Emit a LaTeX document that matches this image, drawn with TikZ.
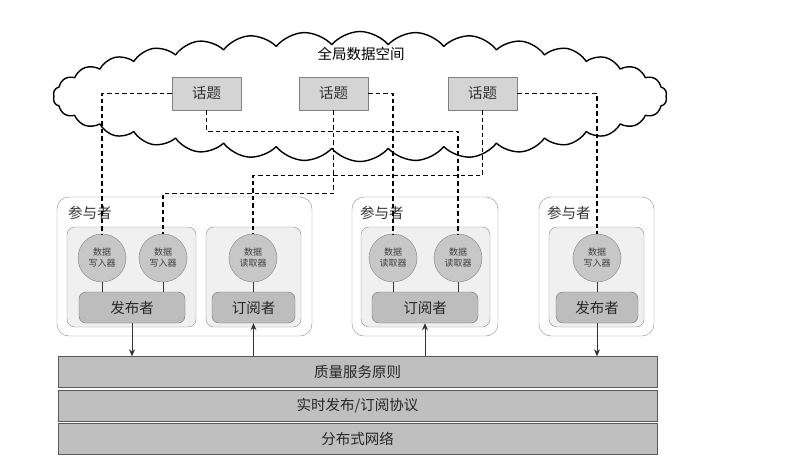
\documentclass[tikz,border=0pt]{standalone}
\usepackage{fontspec}
\setmainfont{Noto Sans CJK SC}
\usetikzlibrary{shapes.symbols,arrows.meta}

\begin{document}
\begin{tikzpicture}[x=1pt, y=-1pt, font=\fontsize{14.5}{16}\selectfont,
	line join=round, >={Stealth[length=7pt,width=6pt]},
	cloudbox/.style={cloud, cloud puffs=34, cloud puff arc=100, cloud ignores aspect,
		draw=black, line width=1.4pt, minimum width=614pt, minimum height=130pt},
	topic/.style={draw=black!50, fill=black!17, minimum width=69pt, minimum height=33pt,
		inner sep=0pt, text=black!80},
	part/.style={draw=black!45, fill=white, rounded corners=12pt, minimum height=139pt},
	group/.style={draw=black!45, fill=black!6, rounded corners=8pt, minimum height=100pt},
	dnode/.style={circle, draw=black!50, fill=black!22, minimum size=48pt, inner sep=0pt,
		align=center, font=\fontsize{9}{11}\selectfont, text=black!75},
	ps/.style={draw=black!55, fill=black!26, rounded corners=7pt, minimum height=31pt,
		text=black!85},
	bar/.style={draw=black!65, fill=black!25, minimum width=599pt, minimum height=31pt,
		text=black!85},
	plabel/.style={anchor=west, inner sep=0pt, text=black!80},
	dashline/.style={dashed, dash pattern=on 4.5pt off 3pt, line width=1.1pt},
	link/.style={line width=1pt, black!80}
	]
	%	\draw[gray!10] (0,0) grid[step=20pt] (796,472);
	\useasboundingbox[fill=white] (0,0) rectangle (796,472);
	% global data space
	\node[cloudbox] (space) at (360,96.5) {};
	\node (title) at (361,54) {全局数据空间};
	\node[topic] (t1) at (206.5,93.5) {话题};
	\node[topic] (t2) at (333.5,93.5) {话题};
	\node[topic] (t3) at (482.5,93.5) {话题};
	% participants
	\node[part, minimum width=255pt] (p1) at (184.5,266.5) {};
	\node[part, minimum width=146pt] (p2) at (425,266.5) {};
	\node[part, minimum width=115pt] (p3) at (596.5,266.5) {};
	\node[plabel] (l1) at ([xshift=11pt,yshift=-16pt]p1.north west) {参与者};
	\node[plabel] (l2) at ([xshift=8pt,yshift=-16pt]p2.north west) {参与者};
	\node[plabel] (l3) at ([xshift=8pt,yshift=-16pt]p3.north west) {参与者};
	\node[group, minimum width=129pt] (g1) at (131.5,277) {};
	\node[group, minimum width=95pt] (g2) at (253.5,277) {};
	\node[group, minimum width=129pt] (g3) at (425.5,277) {};
	\node[group, minimum width=95pt] (g4) at (596.5,277) {};
	% writers and readers
	\node[dnode] (w1) at (102,258) {数据\\写入器};
	\node[dnode] (w2) at (163,258) {数据\\写入器};
	\node[dnode] (r1) at (253,258) {数据\\读取器};
	\node[dnode] (r2a) at (393,258) {数据\\读取器};
	\node[dnode] (r2b) at (458,258) {数据\\读取器};
	\node[dnode] (w3) at (597,258) {数据\\写入器};
	% topic links
	\draw[dashline] (t1.west) -| (w1.north);
	\draw[dashline] (t1.south) -- ++(0,21) -| (r2b.north);
	\draw[dashline] (t2.east) -| (r2a.north);
	\draw[dashline] (t2.south) -- ++(0,83) -| (w2.north);
	\draw[dashline] (t3.south) -- ++(0,65) -| (r1.north);
	\draw[dashline] (t3.east) -| (w3.north);
	\node[ps, minimum width=106pt] (pub1) at (132,307.5) {发布者};
	\node[ps, minimum width=83pt] (sub1) at (253.5,307.5) {订阅者};
	\node[ps, minimum width=106pt] (sub2) at (425,307.5) {订阅者};
	\node[ps, minimum width=82pt] (pub2) at (597,307.5) {发布者};
	\draw[link] (w1.south) -- (w1.south |- pub1.north);
	\draw[link] (w2.south) -- (w2.south |- pub1.north);
	\draw[link] (r1.south) -- (r1.south |- sub1.north);
	\draw[link] (r2a.south) -- (r2a.south |- sub2.north);
	\draw[link] (r2b.south) -- (r2b.south |- sub2.north);
	\draw[link] (w3.south) -- (w3.south |- pub2.north);
	% layers
	\node[bar] (qos) at (357.5,372) {质量服务原则};
	\node[bar] (rtps) at (357.5,405.5) {实时发布/订阅协议};
	\node[bar] (net) at (357.5,439) {分布式网络};
	\draw[link,->] (pub1.south) -- (pub1.south |- qos.north);
	\draw[link,->] (sub1.south |- qos.north) -- (sub1.south);
	\draw[link,->] (sub2.south |- qos.north) -- (sub2.south);
	\draw[link,->] (pub2.south) -- (pub2.south |- qos.north);
\end{tikzpicture}
\end{document}
